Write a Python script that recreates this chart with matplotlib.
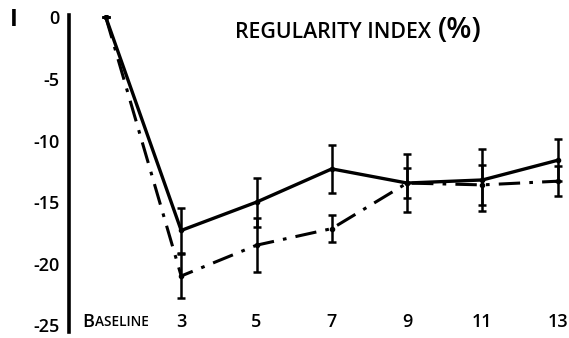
import numpy as np
import matplotlib.pyplot as plt

plt.rcParams['font.family'] = ['Open Sans', 'DejaVu Sans']

# weeks after baseline
weeks = ['Baseline', '3', '5', '7', '9', '11', '13']
solid_mean = [0, -17.3, -15.0, -12.3, -13.45, -13.2, -11.6]
solid_err = [0, 1.8, 2.0, 1.95, 2.35, 2.5, 1.7]
dash_mean = [0, -21.0, -18.5, -17.15, -13.45, -13.6, -13.3]
dash_err = [0, 1.8, 2.2, 1.1, 1.2, 1.6, 1.2]

x = np.arange(len(weeks))

fig = plt.figure(figsize=(5.69, 3.38), dpi=100)
ax = fig.add_axes([69 / 569, 6 / 338, 500 / 569, 317 / 338])

ax.errorbar(x, dash_mean, yerr=dash_err, color='black', lw=2.2,
            linestyle=(0, (7, 3, 1.2, 3)), marker='o', ms=3,
            elinewidth=1.8, capsize=3, capthick=1.8)
ax.errorbar(x, solid_mean, yerr=solid_err, color='black', lw=2.4,
            linestyle='-', marker='o', ms=3,
            elinewidth=1.8, capsize=3, capthick=1.8)

ax.set_xlim(-0.49, 6.15)
ax.set_ylim(-25.55, 0.2)
ax.set_yticks([0, -5, -10, -15, -20, -25])
ax.set_yticklabels(['0', '-5', '-10', '-15', '-20', '-25'],
                   fontsize=13, fontweight='semibold')
ax.tick_params(axis='y', length=0, pad=7)
ax.set_xticks([])

for side in ['top', 'right', 'bottom']:
    ax.spines[side].set_visible(False)
ax.spines['left'].set_linewidth(2.6)

# x labels sit inside the axes, just above the bottom
for xi, lab in zip(x[1:], weeks[1:]):
    ax.text(xi, -24.75, lab, ha='center', va='center',
            fontsize=13, fontweight='semibold')
# small caps "Baseline"
ax.text(-0.31, -24.75, 'B', ha='left', va='center',
        fontsize=13, fontweight='semibold')
ax.text(-0.14, -24.75, 'ASELINE', ha='left', va='center',
        fontsize=9.8, fontweight='semibold')

fig.text(235 / 569, 1 - 33 / 338, 'REGULARITY INDEX', ha='left', va='center',
         fontsize=15.3, fontweight='semibold')
fig.text(438 / 569, 1 - 31 / 338, '(%)', ha='left', va='center',
         fontsize=21, fontweight='semibold')
fig.text(10 / 569, 1 - 20 / 338, 'I', ha='left', va='center',
         fontsize=17, fontweight='bold')

plt.savefig('out.png', dpi=100)
